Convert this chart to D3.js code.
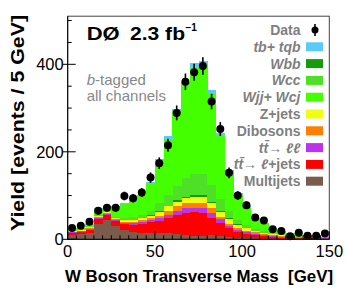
<!DOCTYPE html>
<html>
<head>
<meta charset="utf-8">
<script src="https://cdn.jsdelivr.net/npm/d3@7"></script>
<style>
body { margin: 0; background: #fff; }
svg { display: block; font-family: "Liberation Sans", Arial, Helvetica, sans-serif; }
</style>
</head>
<body>
<svg id="chart" width="346" height="290"></svg>
<script>
var WIDTH = 346;
var HEIGHT = 290;
var LEFT = 67.7;
var RIGHT = 329.3;
var TOP = 16.2;
var BOTTOM = 239.3;
var BIN_WIDTH = 5;

// lower bin edges [GeV]
var binEdges = [0, 5, 10, 15, 20, 25, 30, 35, 40, 45, 50, 55, 60, 65, 70,
  75, 80, 85, 90, 95, 100, 105, 110, 115, 120, 125, 130, 135, 140, 145];

var dataCounts = [26, 31, 40, 65, 72, 72, 99, 94, 107, 141, 174, 215, 289, 360, 382,
  396, 315, 252, 152, 100, 78, 50, 43, 23, 19, 7, 15, 8, 8, 13];

// backgrounds, bottom of the stack first
var multijets = [10, 11, 14, 35, 44, 30, 22, 17, 15, 15, 14, 15, 13, 10, 8,
  8, 10, 8, 5, 3, 2, 2, 1, 1, 1, 1, 0, 0, 0, 0];
var ttLepJets = [4, 5, 7, 12, 12, 12, 12, 16, 21, 25, 28, 33, 42, 49, 54,
  51, 39, 30, 20, 13, 10, 7, 6, 4, 3, 2, 2, 2, 2, 1];
var ttDilep = [2, 2, 3, 2, 2, 2, 3, 4, 4, 4, 6, 7, 10, 12, 10,
  12, 10, 8, 6, 5, 4, 4, 3, 3, 2, 2, 2, 2, 1, 2];
var dibosons = [1, 1, 1, 1, 1, 2, 2, 2, 3, 4, 6, 10, 11, 11, 12,
  13, 12, 6, 5, 5, 4, 3, 2, 1, 1, 1, 1, 0, 1, 0];
var zJets = [2, 2, 2, 3, 3, 3, 4, 5, 5, 6, 9, 10, 10, 12, 13,
  13, 11, 11, 10, 7, 5, 4, 3, 2, 2, 1, 1, 1, 1, 1];
var wbb = [0, 0, 0, 0, 0, 0, 1, 1, 1, 1, 2, 2, 3, 3, 4,
  4, 3, 2, 2, 1, 1, 0, 0, 0, 0, 0, 0, 0, 0, 0];
var wcc = [0, 1, 1, 2, 1, 3, 5, 6, 7, 10, 17, 24, 33, 42, 48,
  48, 40, 28, 17, 11, 7, 4, 3, 2, 1, 1, 0, 0, 0, 0];
var wjjWcj = [2, 3, 5, 14, 9, 21, 32, 36, 42, 61, 96, 127, 170, 212, 243,
  249, 207, 143, 89, 57, 40, 22, 18, 11, 8, 5, 3, 2, 1, 1];
var singleTop = [1, 1, 1, 2, 4, 3, 3, 3, 3, 4, 5, 8, 7, 9, 10,
  9, 9, 6, 4, 3, 2, 2, 1, 1, 1, 1, 1, 1, 1, 1];

var xTicks = [0, 50, 100, 150];
var yTicks = [0, 200, 400];

// stack order bottom -> top
var layers = [
  { key: 'multijets', values: multijets, color: '#7b5b4b', label: [['Multijets', false]] },
  { key: 'ttlj', values: ttLepJets, color: '#ff0000', label: [['tt\u0304', true], ['\u2192 ', false], ['\u2113', true], ['+jets', false]] },
  { key: 'ttll', values: ttDilep, color: '#bb33ee', label: [['tt\u0304', true], ['\u2192 ', false], ['\u2113\u2113', true]] },
  { key: 'dibosons', values: dibosons, color: '#ff8000', label: [['Dibosons', false]] },
  { key: 'zjets', values: zJets, color: '#eeff11', label: [['Z+jets', false]] },
  { key: 'wbb', values: wbb, color: '#169c0a', label: [['Wbb', true]] },
  { key: 'wcc', values: wcc, color: '#4de026', label: [['Wcc', true]] },
  { key: 'wjj', values: wjjWcj, color: '#44ff00', label: [['Wjj+ Wcj', true]] },
  { key: 'tb', values: singleTop, color: '#5ccaf8', label: [['tb+ tqb', true]] }
];

// legend order, top row first
var legendKeys = ['tb', 'wbb', 'wcc', 'wjj', 'zjets', 'dibosons', 'ttll', 'ttlj', 'multijets'];

var svg = d3.select('#chart');

var x = d3.scaleLinear().domain([0, 150]).range([LEFT, RIGHT]);
var y = d3.scaleLinear().domain([0, 510]).range([BOTTOM, TOP]);

// build table for d3.stack
var table = binEdges.map(function (lo, i) {
  var row = { lo: lo };
  layers.forEach(function (l) { row[l.key] = l.values[i]; });
  return row;
});

var stack = d3.stack().keys(layers.map(function (l) { return l.key; }));
var series = stack(table);

var plot = svg.append('g');

plot.selectAll('.layer')
  .data(series)
  .enter().append('g')
  .attr('class', 'layer')
  .attr('fill', function (d, i) { return layers[i].color; })
  .selectAll('rect')
  .data(function (d) { return d; })
  .enter().append('rect')
  .attr('shape-rendering', 'crispEdges')
  .attr('x', function (d) { return x(d.data.lo); })
  .attr('width', function (d) { return x(d.data.lo + BIN_WIDTH) - x(d.data.lo) + 0.5; })
  .attr('y', function (d) { return y(d[1]); })
  .attr('height', function (d) { return Math.max(0, y(d[0]) - y(d[1])); });

// data points with sqrt(N) errors
var points = plot.selectAll('.pt')
  .data(dataCounts)
  .enter().append('g')
  .attr('class', 'pt')
  .attr('transform', function (d, i) {
    return 'translate(' + x(binEdges[i] + BIN_WIDTH / 2) + ',0)';
  });

points.append('line')
  .attr('x1', 0).attr('x2', 0)
  .attr('y1', function (d) { return y(d + Math.sqrt(d)); })
  .attr('y2', function (d) { return y(Math.max(0, d - Math.sqrt(d))); })
  .attr('stroke', '#000')
  .attr('stroke-width', 1.6);

points.append('circle')
  .attr('cy', function (d) { return y(d); })
  .attr('r', 4)
  .attr('fill', '#000');

// frame
svg.append('rect')
  .attr('x', LEFT).attr('y', TOP)
  .attr('width', RIGHT - LEFT).attr('height', BOTTOM - TOP)
  .attr('fill', 'none')
  .attr('stroke', '#444')
  .attr('stroke-width', 1);

// y ticks: minor every 50, labelled every 200
var axisG = svg.append('g').attr('stroke', '#000').attr('stroke-width', 1);
d3.range(0, 501, 50).forEach(function (v) {
  var major = yTicks.indexOf(v) >= 0;
  axisG.append('line')
    .attr('x1', LEFT - (major ? 5 : 0)).attr('x2', LEFT + (major ? 8 : 4))
    .attr('y1', y(v)).attr('y2', y(v));
});
d3.range(0, 151, 5).forEach(function (v) {
  var major = xTicks.indexOf(v) >= 0;
  axisG.append('line')
    .attr('x1', x(v)).attr('x2', x(v))
    .attr('y1', BOTTOM).attr('y2', BOTTOM - (major ? 8 : 4));
});
svg.append('line')
  .attr('x1', LEFT).attr('x2', LEFT).attr('y1', TOP).attr('y2', BOTTOM)
  .attr('stroke', '#000');
svg.append('line')
  .attr('x1', LEFT).attr('x2', RIGHT).attr('y1', BOTTOM).attr('y2', BOTTOM)
  .attr('stroke', '#000');

svg.selectAll('.ylab')
  .data(yTicks)
  .enter().append('text')
  .attr('class', 'ylab')
  .attr('x', LEFT - 4)
  .attr('y', function (d) { return y(d) + 6; })
  .attr('text-anchor', 'end')
  .attr('font-size', 16.5)
  .text(function (d) { return d; });

svg.selectAll('.xlab')
  .data(xTicks)
  .enter().append('text')
  .attr('class', 'xlab')
  .attr('x', function (d) { return x(d); })
  .attr('y', 257)
  .attr('text-anchor', 'middle')
  .attr('font-size', 16.5)
  .text(function (d) { return d; });

// axis titles
svg.append('text')
  .attr('x', 199).attr('y', 282)
  .attr('text-anchor', 'middle')
  .attr('font-size', 17)
  .attr('font-weight', 'bold')
  .attr('textLength', 268)
  .attr('lengthAdjust', 'spacingAndGlyphs')
  .style('white-space', 'pre')
  .text('W Boson Transverse Mass  [GeV]');

svg.append('text')
  .attr('transform', 'translate(24,123) rotate(-90)')
  .attr('text-anchor', 'middle')
  .attr('font-size', 18)
  .attr('font-weight', 'bold')
  .attr('textLength', 216)
  .attr('lengthAdjust', 'spacingAndGlyphs')
  .text('Yield [events / 5 GeV]');

// experiment tag
svg.append('text')
  .attr('x', 86.7).attr('y', 39.5)
  .attr('font-size', 19).attr('font-weight', 'bold')
  .attr('textLength', 33).attr('lengthAdjust', 'spacingAndGlyphs')
  .text('D\u00d8');
svg.append('text')
  .attr('x', 130).attr('y', 39.5)
  .attr('font-size', 19).attr('font-weight', 'bold')
  .attr('textLength', 55).attr('lengthAdjust', 'spacingAndGlyphs')
  .style('white-space', 'pre')
  .text('2.3 fb');
svg.append('text')
  .attr('x', 185.5).attr('y', 31)
  .attr('font-size', 10).attr('font-weight', 'bold')
  .text('\u22121');

var note = svg.append('text')
  .attr('x', 86.7).attr('y', 85)
  .attr('font-size', 15).attr('fill', '#888');
note.append('tspan').attr('font-style', 'italic').text('b');
note.append('tspan').text('-tagged');
svg.append('text')
  .attr('x', 86.7).attr('y', 101)
  .attr('font-size', 15).attr('fill', '#888')
  .text('all channels');

// legend
var LEG_TEXT_X = 300.5;
var LEG_BOX_X = 306;
var LEG_Y0 = 30;
var LEG_STEP = 16.8;

var byKey = {};
layers.forEach(function (l) { byKey[l.key] = l; });

var legendRows = [{ label: [['Data', false]], data: true }].concat(
  legendKeys.map(function (k) { return { label: byKey[k].label, color: byKey[k].color }; }));

var leg = svg.selectAll('.leg')
  .data(legendRows)
  .enter().append('g')
  .attr('class', 'leg')
  .attr('transform', function (d, i) { return 'translate(0,' + (LEG_Y0 + i * LEG_STEP) + ')'; });

leg.append('text')
  .attr('x', LEG_TEXT_X)
  .attr('y', 5)
  .attr('text-anchor', 'end')
  .attr('font-size', 14)
  .attr('font-weight', 'bold')
  .attr('fill', '#7f7f7f')
  .style('white-space', 'pre')
  .each(function (d) {
    var t = d3.select(this);
    d.label.forEach(function (seg) {
      t.append('tspan')
        .attr('font-style', seg[1] ? 'italic' : 'normal')
        .text(seg[0]);
    });
  });

leg.filter(function (d) { return !d.data; })
  .append('rect')
  .attr('x', LEG_BOX_X).attr('y', -4.5)
  .attr('width', 17).attr('height', 9)
  .attr('fill', function (d) { return d.color; });

var dataLeg = leg.filter(function (d) { return d.data; });
dataLeg.append('line')
  .attr('x1', 315).attr('x2', 315).attr('y1', -6).attr('y2', 6)
  .attr('stroke', '#000').attr('stroke-width', 1.6);
dataLeg.append('circle')
  .attr('cx', 315).attr('cy', 0).attr('r', 3.5).attr('fill', '#000');
</script>
</body>
</html>
